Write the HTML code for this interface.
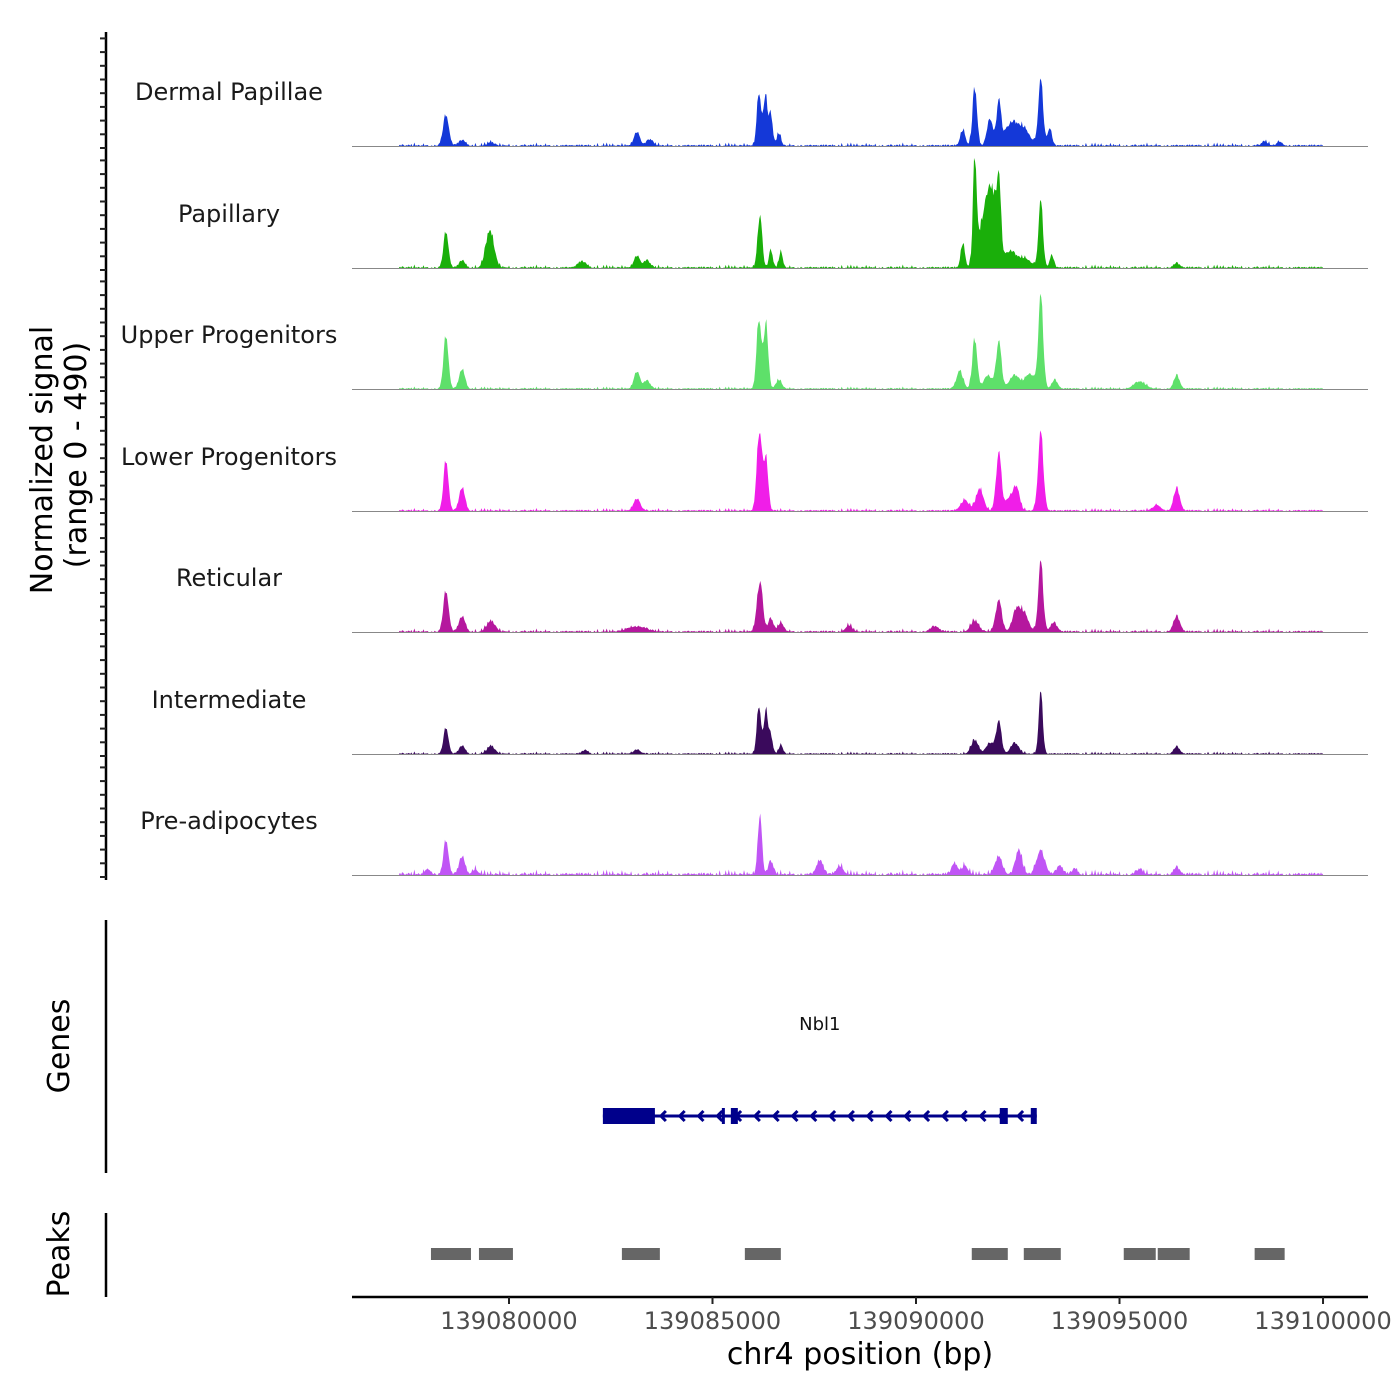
<!DOCTYPE html>
<html><head><meta charset="utf-8"><style>
html,body{margin:0;padding:0;background:#fff;}
svg{display:block;font-family:"DejaVu Sans","Liberation Sans",sans-serif;}
</style></head><body>
<svg id="chart" width="1400" height="1400" viewBox="0 0 1400 1400"></svg>
<script>
// ---- data ----
const xDomain = [139076143, 139101105];
const trackNames = ["Dermal Papillae","Papillary","Upper Progenitors","Lower Progenitors","Reticular","Intermediate","Pre-adipocytes"];
const trackColors = ["#1438d8","#1aaf0a","#5ee06a","#f01ee8","#b5179e","#3a0a5c","#c055f5"];
const yRangeMax = 490;
// peaks: [position bp, signal value, width bp]
const peaksDermal = [[139078452,136,70],[139078845,24,80],[139079557,16,80],[139083143,64,70],[139083462,28,80],[139086140,248,50],[139086300,232,50],[139086434,140,45],[139086630,56,50],[139091149,72,60],[139091444,256,55],[139091813,120,70],[139092033,184,55],[139092353,100,180],[139092672,60,140],[139093065,288,60],[139093286,80,50],[139098566,20,70],[139098934,16,70]];
const peaksPapillary = [[139078452,160,60],[139078845,32,70],[139079532,168,100],[139081792,28,100],[139083143,56,70],[139083388,32,80],[139086163,240,55],[139086434,80,45],[139086679,72,45],[139091149,112,50],[139091444,440,45],[139091690,220,150],[139091862,240,110],[139092033,320,55],[139092304,72,150],[139092672,40,150],[139093065,292,55],[139093335,56,50],[139096405,20,70]];
const peaksUpper = [[139078452,236,60],[139078845,88,70],[139083143,80,70],[139083388,36,80],[139086140,324,55],[139086311,300,55],[139086630,40,70],[139091076,80,80],[139091444,220,60],[139091764,60,100],[139092033,208,65],[139092427,60,130],[139092795,68,110],[139093065,404,60],[139093409,40,70],[139095496,32,140],[139096405,60,70]];
const peaksLower = [[139078452,224,60],[139078845,104,70],[139083143,56,80],[139086150,364,60],[139086311,240,55],[139091198,48,100],[139091567,100,90],[139092033,256,65],[139092304,60,100],[139092476,96,75],[139093065,344,65],[139095914,24,100],[139096405,100,75]];
const peaksReticular = [[139078452,180,65],[139078845,68,75],[139079557,48,100],[139083143,24,220],[139086163,228,70],[139086434,60,60],[139086679,40,70],[139088349,28,80],[139090461,24,100],[139091444,48,100],[139092033,140,75],[139092476,100,100],[139092672,72,100],[139093065,308,60],[139093384,40,80],[139096405,68,80]];
const peaksIntermediate = [[139078452,116,60],[139078845,36,70],[139079557,36,90],[139081866,16,70],[139083143,20,80],[139086140,224,50],[139086311,200,50],[139086434,80,45],[139086679,40,50],[139091444,60,90],[139091813,48,90],[139092033,144,65],[139092427,48,100],[139093065,272,50],[139096405,32,70]];
const peaksPreadipo = [[139078010,24,70],[139078452,152,60],[139078845,80,70],[139079164,24,70],[139086163,276,50],[139086434,60,60],[139087637,64,80],[139088128,40,80],[139090952,48,75],[139091198,40,75],[139092033,80,90],[139092525,112,80],[139093065,108,100],[139093532,40,75],[139093900,24,70],[139095496,24,80],[139096405,32,70]];
const trackPeaks = [peaksDermal,peaksPapillary,peaksUpper,peaksLower,peaksReticular,peaksIntermediate,peaksPreadipo];
// background level per track and a hand-read jitter pattern (relative)
const bgLevels = [14,14,10,12,14,10,22];
const bgPattern = [0.2,0.9,0.1,0.5,1.0,0.3,0.0,0.7,0.2,0.4,0.8,0.1,0.6,0.0,0.3,1.0,0.2,0.5,0.1,0.9,0.4,0.0,0.6,0.3,0.8,0.1,0.5,0.2,0.7,0.0,0.0,0.0,0.4,0.0,0.0,0.9,0.1,0.0,0.0,0.3];
const bgStart = 139077300, bgEnd = 139100000;
// gene model
const geneName = "Nbl1";
const geneSpan = [139082307, 139092967];
const geneExons = [[139082307,139083585],[139085230,139085304],[139085451,139085623],[139092058,139092255],[139092820,139092967]];
// peaks track
const peakRegions = [[139078083,139079066],[139079262,139080097],[139082774,139083707],[139085795,139086679],[139091370,139092255],[139092648,139093557],[139095104,139095890],[139095939,139096724],[139098320,139099057]];
const xTicks = [139080000,139085000,139090000,139095000,139100000];

// ---- layout ----
const NS="http://www.w3.org/2000/svg";
const svg=document.getElementById('chart');
const plotL=352, plotR=1368;
const X=v=>plotL+(v-xDomain[0])/(xDomain[1]-xDomain[0])*(plotR-plotL);
const baselines=[146,268,389,511,632,754,875];
const trackH=121.5;
const Y=(i,v)=>baselines[i]-v/yRangeMax*trackH;
function mk(tag,attrs,parent){const e=document.createElementNS(NS,tag);for(const k in attrs)e.setAttribute(k,attrs[k]);(parent||svg).appendChild(e);return e;}

// left y axis
const yax=mk('g',{});


mk('line',{x1:106,y1:32,x2:106,y2:880,stroke:'#000','stroke-width':2.5},yax);
baselines.forEach((b,i)=>{for(let k=0;k<=8;k++){const yy=b-k*13.7+2;mk('line',{x1:100,x2:106,y1:yy,y2:yy,stroke:'#222','stroke-width':2},yax);}});
const yt=mk('text',{x:0,y:0,'font-size':30,'text-anchor':'middle',transform:'translate(52,460) rotate(-90)'});
yt.textContent='Normalized signal';


const yt2=mk('text',{x:0,y:0,'font-size':30,'text-anchor':'middle',transform:'translate(86,455) rotate(-90)'});
yt2.textContent='(range 0 - 490)';



// tracks
trackNames.forEach((name,i)=>{
  const g=mk('g',{});
  
  
  const step=25;let d='M'+X(bgStart).toFixed(1)+','+baselines[i];
  let n=0;
  for(let p=bgStart;p<=bgEnd;p+=step,n++){
    let v=bgLevels[i]*bgPattern[n%bgPattern.length]*(n%3===0?1:0.4);
    for(const pk of trackPeaks[i]){const z=(p-pk[0])/pk[2];if(Math.abs(z)<6)v+=pk[1]*Math.exp(-0.5*z*z)*(0.85+0.15*bgPattern[(n*7)%bgPattern.length]);}
    d+=' L'+X(p).toFixed(1)+','+Y(i,v).toFixed(1);
  }
  d+=' L'+X(bgEnd).toFixed(1)+','+baselines[i]+' Z';
  const a=mk('path',{d:d,fill:trackColors[i],stroke:'none'},g);
  
  
  mk('line',{x1:plotL,x2:plotR,y1:baselines[i]+0.5,y2:baselines[i]+0.5,stroke:'#888','stroke-width':1},g);
  const t=mk('text',{x:229,y:baselines[i]-46,'font-size':24,'text-anchor':'middle',fill:'#1a1a1a'},g);
  t.textContent=name;
  
  
});

// genes panel
const gg=mk('g',{});


mk('line',{x1:106,y1:920,x2:106,y2:1173,stroke:'#000','stroke-width':2.5},gg);
const gl=mk('text',{x:0,y:0,'font-size':30,'text-anchor':'middle',transform:'translate(69,1046) rotate(-90)'},gg);
gl.textContent='Genes';


const gy=1116;
mk('line',{x1:X(geneSpan[0]),x2:X(geneSpan[1]),y1:gy,y2:gy,stroke:'#00008b','stroke-width':3},gg);
for(let xx=X(geneSpan[0])+58;xx<X(geneSpan[1])-12;xx+=18.8){
  mk('polyline',{points:`${xx+5},${gy-5} ${xx},${gy} ${xx+5},${gy+5}`,fill:'none',stroke:'#00008b','stroke-width':3},gg);
}
geneExons.forEach(ex=>{
  const r=mk('rect',{x:X(ex[0]),y:gy-8,width:Math.max(3,X(ex[1])-X(ex[0])),height:16,fill:'#00008b'},gg);
  
  
});
const gn=mk('text',{x:X((geneSpan[0]+geneSpan[1])/2),y:1030,'font-size':18,'text-anchor':'middle',fill:'#111'},gg);
gn.textContent=geneName;



// peaks panel
const pg=mk('g',{});


mk('line',{x1:106,y1:1213,x2:106,y2:1297,stroke:'#000','stroke-width':2.5},pg);
const pl=mk('text',{x:0,y:0,'font-size':30,'text-anchor':'middle',transform:'translate(69,1254) rotate(-90)'},pg);
pl.textContent='Peaks';


peakRegions.forEach(p=>{
  const r=mk('rect',{x:X(p[0]),y:1248,width:X(p[1])-X(p[0]),height:12,fill:'#666'},pg);
  
  
});

// x axis
const xg=mk('g',{});


mk('line',{x1:plotL,x2:plotR,y1:1297,y2:1297,stroke:'#000','stroke-width':2.5},xg);
xTicks.forEach(v=>{
  mk('line',{x1:X(v),x2:X(v),y1:1297,y2:1304,stroke:'#222','stroke-width':2},xg);
  const t=mk('text',{x:X(v),y:1329,'font-size':24,'text-anchor':'middle',fill:'#4d4d4d'},xg);
  t.textContent=String(v);
  
  
});
const xt=mk('text',{x:860,y:1364,'font-size':30,'text-anchor':'middle',fill:'#000'},xg);
xt.textContent='chr4 position (bp)';


</script>
</body></html>
